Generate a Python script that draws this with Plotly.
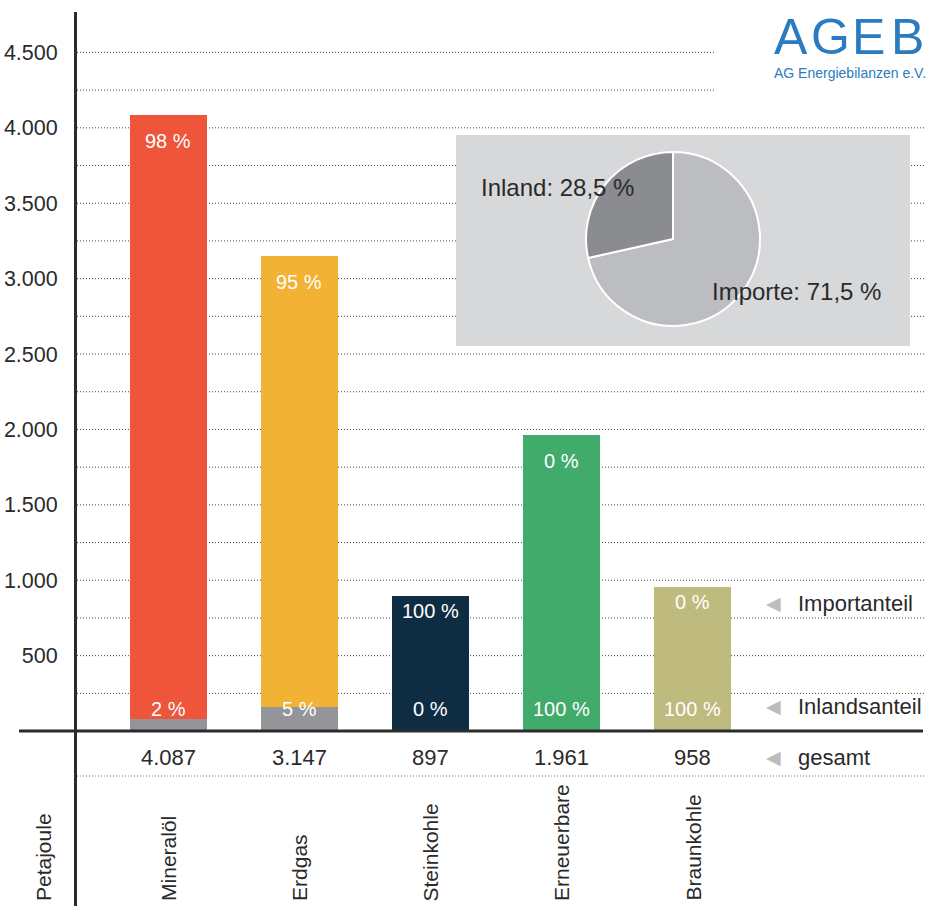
import plotly.graph_objects as go

# ---------------- data ----------------
categories = ["Mineralöl", "Erdgas", "Steinkohle", "Erneuerbare", "Braunkohle"]
total_pj = [4087, 3147, 897, 1961, 958]
import_pj = [4005, 2990, 897, 0, 0]
domestic_pj = [82, 157, 0, 1961, 958]
import_share = ["98 %", "95 %", "100 %", "0 %", "0 %"]
domestic_share = ["2 %", "5 %", "0 %", "100 %", "100 %"]
pie_labels = ["Importe", "Inland"]
pie_values = [71.5, 28.5]
tick_vals = [500, 1000, 1500, 2000, 2500, 3000, 3500, 4000, 4500]
tick_text = ["500", "1.000", "1.500", "2.000", "2.500", "3.000", "3.500", "4.000", "4.500"]
grid_vals = [250, 500, 750, 1000, 1250, 1500, 1750, 2000, 2250, 2500,
             2750, 3000, 3250, 3500, 3750, 4000, 4250, 4500]
row_labels = ["Importanteil", "Inlandsanteil", "gesamt"]
unit_label = "Petajoule"

# ---------------- styles ----------------
import_colors = ["#ee553a", "#f2b233", "#0f2d42", "#41ab6b", "#bfba7d"]
domestic_colors = ["#939598", "#939598", "#939598", "#41ab6b", "#bfba7d"]
pie_colors = ["#bcbdc0", "#8b8c8f"]
TXT = "#2a2a2a"
SANS = "Liberation Sans, Arial, sans-serif"

W, H = 926, 906
L, T = 77, 12
PW, PH = W - L, H - T
Y_RANGE = [-1160, 4768]
X_RANGE = [-0.698, 5.782]


def px_x(px):
    return (px - L) / PW


def px_y(py):
    return (H - py) / PH


def data_y_paper(v):
    return (v - Y_RANGE[0]) / (Y_RANGE[1] - Y_RANGE[0])


fig = go.Figure()

fig.add_trace(go.Bar(
    x=categories, y=domestic_pj, marker=dict(color=domestic_colors, line=dict(width=0)),
    width=0.59, hoverinfo="skip", showlegend=False))
fig.add_trace(go.Bar(
    x=categories, y=import_pj, marker=dict(color=import_colors, line=dict(width=0)),
    width=0.59, hoverinfo="skip", showlegend=False))

# inset pie
cx, cy, r = 673, 239, 87
fig.add_trace(go.Pie(
    values=pie_values, labels=pie_labels, sort=False, direction="clockwise",
    rotation=0, marker=dict(colors=pie_colors, line=dict(color="white", width=2)),
    textinfo="none", hoverinfo="skip", showlegend=False,
    domain=dict(x=[px_x(cx - r), px_x(cx + r)], y=[px_y(cy + r), px_y(cy - r)])))

shapes = []
# dotted gridlines
for v in grid_vals:
    x1 = px_x(716) if v > 4000 else 1
    shapes.append(dict(type="line", xref="paper", yref="paper", x0=0, x1=x1,
                       y0=data_y_paper(v), y1=data_y_paper(v), layer="below",
                       line=dict(color="#444444", width=1, dash="1px,2px")))
# inset background box
shapes.append(dict(type="rect", xref="paper", yref="paper",
                   x0=px_x(456), x1=px_x(910), y0=px_y(346), y1=px_y(135),
                   fillcolor="#d7d8da", line=dict(width=0), layer="below"))
# baseline
shapes.append(dict(type="line", xref="paper", yref="paper", x0=px_x(19), x1=px_x(923),
                   y0=data_y_paper(0), y1=data_y_paper(0), layer="above",
                   line=dict(color="#2b2b2b", width=3)))
# dotted line below totals
shapes.append(dict(type="line", xref="paper", yref="paper", x0=0, x1=1,
                   y0=px_y(776), y1=px_y(776), layer="below",
                   line=dict(color="#777777", width=1, dash="1px,2px")))

ann = []
for i, c in enumerate(categories):
    off = -26 if total_pj[i] > 1200 else -15
    ann.append(dict(x=c, y=total_pj[i], xref="x", yref="y", yshift=off, text=import_share[i],
                    showarrow=False, font=dict(family=SANS, size=20, color="white"),
                    xanchor="center", yanchor="middle"))
    ann.append(dict(x=c, y=0, xref="x", yref="y", yshift=22, text=domestic_share[i],
                    showarrow=False, font=dict(family=SANS, size=20, color="white"),
                    xanchor="center", yanchor="middle"))
    ann.append(dict(x=c, y=px_y(757), xref="x", yref="paper",
                    text=f"{total_pj[i]:,}".replace(",", "."),
                    showarrow=False, font=dict(family=SANS, size=22, color=TXT),
                    xanchor="center", yanchor="middle"))
    ann.append(dict(x=c, y=px_y(903), xref="x", yref="paper", text=c, textangle=-90,
                    showarrow=False, font=dict(family=SANS, size=21, color=TXT),
                    xanchor="center", yanchor="bottom"))

ann.append(dict(x=px_x(43), y=px_y(903), xref="paper", yref="paper", text=unit_label,
                textangle=-90, showarrow=False, font=dict(family=SANS, size=21, color=TXT),
                xanchor="center", yanchor="bottom"))

# right-side row labels
for lbl, ypx in zip(row_labels, [603, 706, 757]):
    ann.append(dict(x=px_x(773), y=px_y(ypx), xref="paper", yref="paper", text="◀",
                    showarrow=False, font=dict(family="DejaVu Sans", size=19, color="#bcbdc0"),
                    xanchor="center", yanchor="middle"))
    ann.append(dict(x=px_x(796), y=px_y(ypx), xref="paper", yref="paper", text=lbl,
                    showarrow=False, font=dict(family=SANS, size=22, color=TXT),
                    xanchor="left", yanchor="middle"))

# pie labels
pie_label_pos = {"Inland": (479, 188), "Importe": (710, 292)}
for lbl, v in zip(pie_labels, pie_values):
    xpx, ypx = pie_label_pos[lbl]
    ann.append(dict(x=px_x(xpx), y=px_y(ypx), xref="paper", yref="paper",
                    text=f"{lbl}: {str(v).replace('.', ',')} %",
                    showarrow=False, font=dict(family=SANS, size=24, color=TXT),
                    xanchor="left", yanchor="middle"))

# logo
for letter, xc in zip("AGEB", [791, 830, 868, 907]):
    ann.append(dict(x=px_x(xc), y=px_y(37), xref="paper", yref="paper", text=letter,
                    showarrow=False, font=dict(family=SANS, size=50, color="#2b7bc0"),
                    xanchor="center", yanchor="middle"))
ann.append(dict(x=px_x(772), y=px_y(73), xref="paper", yref="paper",
                text="AG Energiebilanzen e.V.", showarrow=False,
                font=dict(family=SANS, size=14, color="#2b7bc0"),
                xanchor="left", yanchor="middle"))

fig.update_layout(
    width=W, height=H, margin=dict(l=L, r=0, t=T, b=0, autoexpand=False),
    paper_bgcolor="white", plot_bgcolor="rgba(0,0,0,0)",
    barmode="stack", bargap=0, showlegend=False,
    shapes=shapes, annotations=ann,
    xaxis=dict(type="category", range=X_RANGE, showticklabels=False, showgrid=False,
               zeroline=False, showline=False, fixedrange=True),
    yaxis=dict(range=Y_RANGE, tickvals=tick_vals, ticktext=tick_text, showgrid=False,
               zeroline=False, showline=True, linewidth=3, linecolor="#2b2b2b",
               ticks="", ticklabelstandoff=12, fixedrange=True,
               tickfont=dict(family=SANS, size=21.5, color=TXT)),
)

fig.write_html("out.html", config={"displayModeBar": False},
               post_script="document.body.style.margin='0';document.body.style.overflow='hidden';")
